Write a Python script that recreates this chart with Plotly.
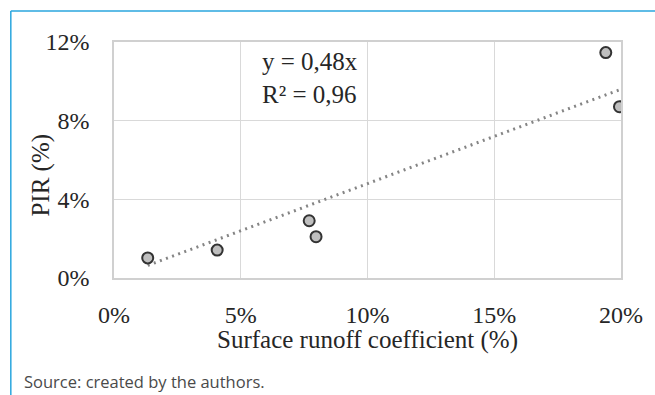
import plotly.graph_objects as go

# Data
runoff = [0.0133, 0.0407, 0.0770, 0.0797, 0.1940, 0.1994]   # Surface runoff coefficient
pir = [0.0102, 0.0142, 0.0291, 0.0210, 0.1146, 0.0871]       # PIR
slope = 0.48
x_ticks = [0, 0.05, 0.10, 0.15, 0.20]
y_ticks = [0, 0.04, 0.08, 0.12]

W, H = 655, 395
L, R, T, B = 114, 625, 42, 278

def px_x(p):
    return (p - L) / (R - L)

def px_y(p):
    return (B - p) / (B - T)

serif = "Liberation Serif, Times New Roman, serif"
txt = "#262626"

trend_x = [min(runoff), max(runoff)]
trend_y = [slope * v for v in trend_x]

fig = go.Figure()
fig.add_trace(go.Scatter(
    x=trend_x, y=trend_y, mode="lines",
    line=dict(color="#858585", width=3, dash="2px,4.5px"),
    hoverinfo="skip", showlegend=False,
))
fig.add_trace(go.Scatter(
    x=runoff, y=pir, mode="markers",
    marker=dict(size=11, color="#bfbfbf", line=dict(color="#333333", width=2)),
    showlegend=False,
))

fig.update_layout(
    width=W, height=H,
    margin=dict(l=L, r=W - R, t=T, b=H - B),
    paper_bgcolor="white", plot_bgcolor="white",
    font=dict(family=serif, size=24, color=txt),
    xaxis=dict(
        range=[0, 0.20], tickvals=x_ticks, tickformat=".0%",
        showgrid=True, gridcolor="#d9d9d9", gridwidth=1.3,
        showline=True, linecolor="#d0d0d0", linewidth=1.5, mirror=True,
        zeroline=False, ticks="", ticklabelstandoff=14,
    ),
    yaxis=dict(
        range=[0, 0.12], tickvals=y_ticks, tickformat=".0%",
        showgrid=True, gridcolor="#d9d9d9", gridwidth=1.3,
        showline=True, linecolor="#d0d0d0", linewidth=1.5, mirror=True,
        zeroline=False, ticks="", ticklabelstandoff=18,
    ),
    annotations=[
        dict(text="y = 0,48x<br>R² = 0,96", x=px_x(261), y=px_y(46), xref="paper", yref="paper",
             xanchor="left", yanchor="top", align="left", showarrow=False,
             font=dict(family=serif, size=25, color=txt)),
        dict(text="Surface runoff coefficient (%)", x=px_x(370), y=px_y(340), xref="paper", yref="paper",
             xanchor="center", yanchor="middle", showarrow=False,
             font=dict(family=serif, size=25, color=txt)),
        dict(text="PIR (%)", x=px_x(40), y=px_y(175), xref="paper", yref="paper",
             xanchor="center", yanchor="middle", textangle=-90, showarrow=False,
             font=dict(family=serif, size=25, color=txt)),
        dict(text="Source: created by the authors.", x=px_x(21), y=px_y(381), xref="paper", yref="paper",
             xanchor="left", yanchor="middle", showarrow=False,
             font=dict(family="Open Sans, sans-serif", size=16.5, color="#4a4a4a")),
    ],
    shapes=[
        dict(type="line", xref="paper", yref="paper",
             x0=px_x(10), y0=px_y(11), x1=px_x(W + 5), y1=px_y(11),
             line=dict(color="#2aa6de", width=1.5)),
        dict(type="line", xref="paper", yref="paper",
             x0=px_x(10), y0=px_y(11), x1=px_x(10), y1=px_y(H + 5),
             line=dict(color="#2aa6de", width=1.5)),
    ],
)

fig.write_html(
    "out.html",
    config={"displayModeBar": False},
    post_script="document.body.style.margin='0';document.body.style.overflow='hidden';",
)
